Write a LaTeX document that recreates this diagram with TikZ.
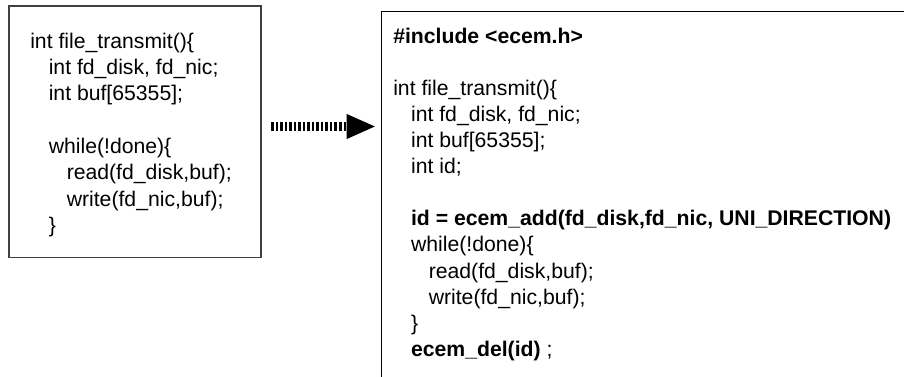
\documentclass[tikz,border=0pt]{standalone}
\usepackage{fontspec}
\setmainfont{Liberation Sans}
\usetikzlibrary{arrows.meta}

\begin{document}
\begin{tikzpicture}[x=0.75pt,y=-0.75pt,
  codeline/.style={anchor=base west,inner sep=0pt,
    font=\fontsize{15.9pt}{19pt}\selectfont},
  boldline/.style={codeline,font=\fontsize{15.9pt}{19pt}\selectfont\bfseries},
  leftframe/.style={draw=black!75,line width=1pt},
  rightframe/.style={draw=black,line width=0.85pt},
  fatdots/.style={line width=6.4pt,dash pattern=on 1.9pt off 1.5pt,
    -{Triangle[length=22pt,width=17pt]}}]
  \useasboundingbox (0,0) rectangle (904,377);
  \clip (0,0) rectangle (904,377);

  % original routine
  \draw[leftframe] (9,6) rectangle (261,257.5);
  \node[codeline] (l1) at (30,48.2)  {int file\_transmit()\{};
  \node[codeline] (l2) at (48.5,74.5)  {int fd\_disk, fd\_nic;};
  \node[codeline] (l3) at (48.5,100.9) {int buf[65355];};
  \node[codeline] (l4) at (48.5,153.5) {while(!done)\{};
  \node[codeline] (l5) at (66.5,179.9) {read(fd\_disk,buf);};
  \node[codeline] (l6) at (66.5,206.2) {write(fd\_nic,buf);};
  \node[codeline] (l7) at (48.5,232.5) {\}};

  % rewritten routine (frame runs past the right and lower edges)
  \draw[rightframe] (930,11.7) -- (381.8,11.7) -- (381.8,400);
  \node[boldline] (r1)  at (393,43.2)  {\#include <ecem.h>};
  \node[codeline] (r2)  at (393,95.4)  {int file\_transmit()\{};
  \node[codeline] (r3)  at (410.8,121.5) {int fd\_disk, fd\_nic;};
  \node[codeline] (r4)  at (410.8,147.6) {int buf[65355];};
  \node[codeline] (r5)  at (410.8,173.7) {int id;};
  \node[boldline] (r6)  at (410.8,225.9) {id = ecem\_add(fd\_disk,fd\_nic, UNI\_DIRECTION)};
  \node[codeline] (r7)  at (410.8,252)   {while(!done)\{};
  \node[codeline] (r8)  at (428.5,278.1) {read(fd\_disk,buf);};
  \node[codeline] (r9)  at (428.5,304.2) {write(fd\_nic,buf);};
  \node[codeline] (r10) at (410.8,330.3) {\}};
  \node[codeline] (r11) at (410.8,356.4) {\textbf{ecem\_del(id)} ;};

  % transformation arrow
  \coordinate (arrS) at (271,126.5);
  \coordinate (arrE) at (376,126.5);
  \draw[fatdots] (arrS) -- (arrE);
\end{tikzpicture}
\end{document}
